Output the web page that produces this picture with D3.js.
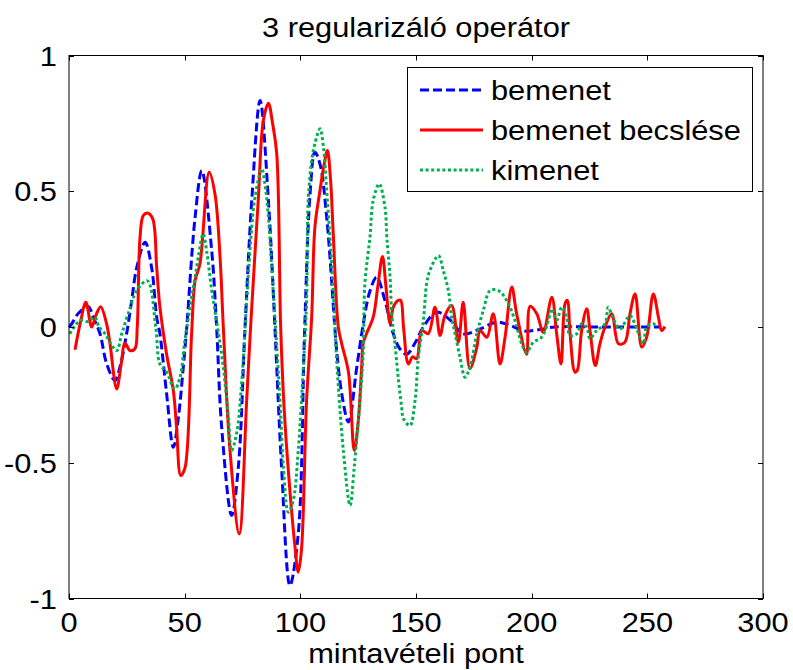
<!DOCTYPE html>
<html lang="hu">
<head>
<meta charset="utf-8" />
<style>
body { margin: 0; background: #fff; }
.axisLine { stroke: #000; stroke-width: 1px; fill: none; }
.tickLabel { fill: #000; font-family: "Liberation Sans", Arial, sans-serif; font-size: 28px; }
.chartTitle { fill: #000; font-family: "Liberation Sans", Arial, sans-serif; font-size: 28px; text-anchor: middle; }
.legendBox { fill: #fff; stroke: #000; stroke-width: 1px; }
.legendLabel { fill: #000; font-family: "Liberation Sans", Arial, sans-serif; font-size: 28px; }
.series { fill: none; stroke-width: 3px; stroke-linejoin: round; }
</style>
</head>
<body>
<script src="https://cdn.jsdelivr.net/npm/d3@7"></script>
<script>
// bemenet (kék, szaggatott)
var bemenetX = [0, 1.2, 4, 8.3, 10.5, 13.4, 16.3, 19.9, 22, 24.9, 27.1, 29.3, 32.9, 35.7, 37.9, 39.3, 42.2, 45.1, 47.3, 49.4, 50.9,
  54.5, 57.4, 61.7, 63.8, 66, 70.3, 73.2, 76.1, 79, 82.6, 86.2, 89, 89.8, 91.9, 95.5, 99.1, 101.8, 104.2, 106.3, 108.5,
  111.4, 114.9, 115.7, 117.9, 120.8, 124.4, 127, 130, 133, 136.5, 140, 143, 146, 149.5, 153.2, 158.9, 165, 170.4, 177.7,
  184.9, 190.6, 197, 203, 210, 230, 256];
var bemenetY = [0, 0.012, 0.05, 0.075, 0.036, -0.025, -0.136, -0.197, -0.148, -0.025, 0.098, 0.22, 0.312, 0.22, 0.036, -0.025, -0.246, -0.443, -0.332, -0.148, 0,
  0.404, 0.576, 0.28, 0, -0.37, -0.694, -0.516, 0, 0.466, 0.834, 0.466, 0, -0.148, -0.516, -0.952, -0.762, -0.025, 0.49, 0.644, 0.6,
  0.404, 0, -0.087, -0.246, -0.35, -0.148, 0, 0.13, 0.183, 0.1, -0.02, -0.08, -0.1, -0.06, 0, 0.055, 0.024, -0.025, -0.007,
  0.018, 0.006, -0.015, -0.01, 0, 0, 0];

// bemenet becslése (piros, folytonos)
var becslesX = [2.6, 5, 7.3, 9.8, 11.5, 13.7, 16.3, 17.7, 20.6, 22.5, 24.2, 26.4, 28.5, 29.5, 30.7, 32.1, 34, 36.2, 37.9, 39.3,
  42.2, 45.1, 46.5, 48.3, 50.1, 53, 54.5, 56.6, 60.6, 63.1, 65.3, 66.7, 69.6, 73.6, 76.8, 78.5, 81.8, 84, 86.2, 88, 89.8,
  91.5, 93, 95, 97.7, 99.1, 100.5, 102.7, 104.9, 106.3, 108.5, 110.3, 111.7, 113, 114.3, 116.4, 117.9, 120.8, 123.3, 125,
  126.5, 127.1, 128.6, 131.5, 133.5, 135.5, 137, 138.8, 140.2, 142.3, 143.4, 144.6, 146.7, 148.5, 150.3, 152.5, 155.3,
  158.2, 160.4, 162.5, 165.4, 168.3, 170.4, 173.3, 176.3, 177.7, 180.6, 183.4, 186.3, 188.5, 191.4, 193.5, 197.8, 199.3,
  202.2, 205, 208.7, 210.8, 212.7, 214.4, 215.4, 216.6, 218.7, 219.7, 221.6, 223.8, 225.2, 227.5, 229.5, 231.7, 234.6,
  237.5, 240.3, 242.5, 244.7, 247.6, 249.7, 252.6, 254.8, 256.2, 257.6];
var becslesY = [-0.084, 0.02, 0.091, 0, 0.04, 0.075, 0.01, -0.06, -0.228, -0.14, -0.06, -0.087, -0.08, 0, 0.33, 0.41, 0.42, 0.398, 0.22, 0.073,
  -0.1, -0.234, -0.37, -0.547, -0.52, -0.025, 0.17, 0.233, 0.57, 0.49, 0.257, 0, -0.455, -0.762, -0.27, 0, 0.466, 0.76, 0.824, 0.75, 0.638,
  0, -0.3, -0.55, -0.81, -0.903, -0.82, -0.27, 0.036, 0.368, 0.503, 0.6, 0.65, 0.55, 0.33, 0, -0.062, -0.166, -0.455, -0.35,
  -0.148, -0.062, -0.025, 0.036, 0.15, 0.26, 0.15, 0.012, 0.073, 0.098, 0.098, 0, -0.136, -0.11, -0.117, -0.013, -0.025,
  0.073, -0.031, 0.042, 0.079, -0.056, 0.091, -0.154, -0.074, -0.013, -0.038, 0.049, -0.136, -0.038, 0.147, 0.049, -0.1, 0.076,
  0.049, -0.019, 0.11, -0.025, -0.136, 0.085, 0.098, -0.025, -0.166, -0.16, -0.013, 0.067, -0.013, -0.142, -0.062, 0, 0.049,
  -0.062, -0.056, 0.049, 0.122, -0.074, -0.038, 0.122, 0.036, -0.013, 0.002];

// kimenet (zöld, pontozott)
var kimenetX = [0.4, 4.8, 8, 11.2, 13, 15.6, 18, 20.6, 22.8, 25.6, 29.3, 33.9, 37.5, 39.3, 42.2, 45.8, 48, 50.1, 53, 54.5, 55.9,
  58, 59.5, 61.7, 63.8, 66.7, 68.9, 70.3, 72.5, 74.6, 76.8, 79, 80.4, 83.3, 84.7, 86.2, 87.6, 89, 91.2, 92.7, 94.8, 96.9,
  99.1, 101.3, 102.7, 103.4, 104.9, 106.3, 108.5, 110, 111.4, 112.8, 114.3, 115.7, 118.6, 121.5, 123.3, 125.8, 127.2,
  127.9, 130.1, 131.5, 134.1, 136.6, 137.4, 138.8, 139.5, 140.9, 142.3, 143.8, 144.6, 147.4, 149.6, 151, 153.2, 154.6,
  156, 159.7, 161.8, 164, 165.4, 166.9, 169, 171.2, 173.3, 176.3, 179.1, 182, 185.6, 189.2, 192.8, 195.7, 197.8, 200.7,
  204.3, 207.2, 208.7, 210.8, 213, 215.1, 216.6, 219.5, 221.6, 223.8, 225.2, 228.1, 231.7, 233.1, 235.3, 238.2, 242.5,
  245.4, 248.3, 249.7, 252.6, 254];
var kimenetY = [-0.025, 0.024, 0.02, 0.036, 0, -0.025, -0.06, -0.087, -0.025, 0.049, 0.134, 0.17, 0, -0.136, -0.166, -0.228, -0.185, -0.05, 0.11, 0.183, 0.257,
  0.343, 0.28, 0.134, 0.024, -0.148, -0.332, -0.455, -0.39, -0.21, 0.098, 0.368, 0.478, 0.583, 0.527, 0.404, 0.22, 0.036, -0.27, -0.516, -0.682, -0.64,
  -0.455, -0.148, 0.098, 0.466, 0.613, 0.675, 0.73, 0.662, 0.503, 0.33, 0.122, -0.12, -0.455, -0.657, -0.516, -0.27, -0.087,
  0.16, 0.33, 0.466, 0.527, 0.44, 0.33, 0.183, 0.049, -0.062, -0.185, -0.295, -0.338, -0.363, -0.27, -0.111, 0.024, 0.16,
  0.208, 0.263, 0.208, 0.134, 0.036, -0.025, -0.111, -0.185, -0.148, -0.025, 0.061, 0.134, 0.134, 0.098, 0.024, -0.062, -0.093, -0.056,
  -0.038, 0.024, 0.067, 0.024, 0.073, 0.036, -0.031, -0.025, 0.012, 0, -0.043, -0.013, 0.012, 0.073, 0.03, -0.007, 0.042,
  -0.007, -0.062, 0, 0.012, 0];

var xTicks = [0, 50, 100, 150, 200, 250, 300];
var yTicks = [-1, -0.5, 0, 0.5, 1];
var seriesNames = ["bemenet", "bemenet becslése", "kimenet"];
var chartTitle = "3 regularizáló operátor";
var xLabel = "mintavételi pont";

var width = 793, height = 670;
var plotL = 69, plotR = 763, plotT = 55.5, plotB = 598.5;
var stretch = 1.1; // the reference text is a bit wider than Arial

var svg = d3.select("body").append("svg")
    .attr("width", width)
    .attr("height", height);

var x = d3.scaleLinear().domain([0, 300]).range([plotL, plotR]);
var y = d3.scaleLinear().domain([-1, 1]).range([plotB, plotT]);

var styles = [
  { color: "#0000ff", dash: "9,4" },
  { color: "#ff0000", dash: null },
  { color: "#00b050", dash: "3,2.6" }
];

var series = [
  d3.zip(bemenetX, bemenetY),
  d3.zip(becslesX, becslesY),
  d3.zip(kimenetX, kimenetY)
];

var line = d3.line()
    .x(function (d) { return x(d[0]); })
    .y(function (d) { return y(d[1]); })
    .curve(d3.curveCatmullRom.alpha(0.5));

svg.append("g").selectAll("path")
    .data(series)
  .enter().append("path")
    .attr("class", "series")
    .attr("d", line)
    .attr("stroke", function (d, i) { return styles[i].color; })
    .attr("stroke-dasharray", function (d, i) { return styles[i].dash; });

// axes box
svg.append("rect")
    .attr("class", "axisLine")
    .attr("x", plotL).attr("y", plotT)
    .attr("width", plotR - plotL).attr("height", plotB - plotT);

var tl = 5;
svg.append("g").selectAll("path")
    .data(xTicks)
  .enter().append("path")
    .attr("class", "axisLine")
    .attr("d", function (d) {
        var px = Math.round(x(d)) + 0.5;
        return "M" + px + "," + plotB + "v" + (-tl) + "M" + px + "," + plotT + "v" + tl;
    });

svg.append("g").selectAll("path")
    .data(yTicks)
  .enter().append("path")
    .attr("class", "axisLine")
    .attr("d", function (d) {
        var py = Math.round(y(d)) + 0.5;
        return "M" + plotL + "," + py + "h" + tl + "M" + plotR + "," + py + "h" + (-tl);
    });

// stretched text helper
function sText(g, cls, anchor, px, py, str) {
    return g.append("text")
        .attr("class", cls)
        .attr("text-anchor", anchor)
        .attr("transform", "translate(" + px + "," + py + ") scale(" + stretch + ",1)")
        .text(str);
}

var tg = svg.append("g");
xTicks.forEach(function (d) { sText(tg, "tickLabel", "middle", x(d), 632, d); });
yTicks.forEach(function (d) { sText(tg, "tickLabel", "end", 57, y(d) + 10, d); });

sText(svg, "chartTitle", "middle", (plotL + plotR) / 2, 37, chartTitle);
sText(svg, "chartTitle", "middle", (plotL + plotR) / 2, 663, xLabel);

// legend
var legend = svg.append("g");
legend.append("rect")
    .attr("class", "legendBox")
    .attr("x", 407.5).attr("y", 67.5)
    .attr("width", 345).attr("height", 124);

var rowY = [90, 130, 170];
legend.selectAll("path")
    .data(seriesNames)
  .enter().append("path")
    .attr("class", "series")
    .attr("d", function (d, i) { return "M420," + rowY[i] + "H483"; })
    .attr("stroke", function (d, i) { return styles[i].color; })
    .attr("stroke-dasharray", function (d, i) { return styles[i].dash; });

seriesNames.forEach(function (d, i) { sText(legend, "legendLabel", "start", 491, rowY[i] + 10, d); });
</script>
</body>
</html>
